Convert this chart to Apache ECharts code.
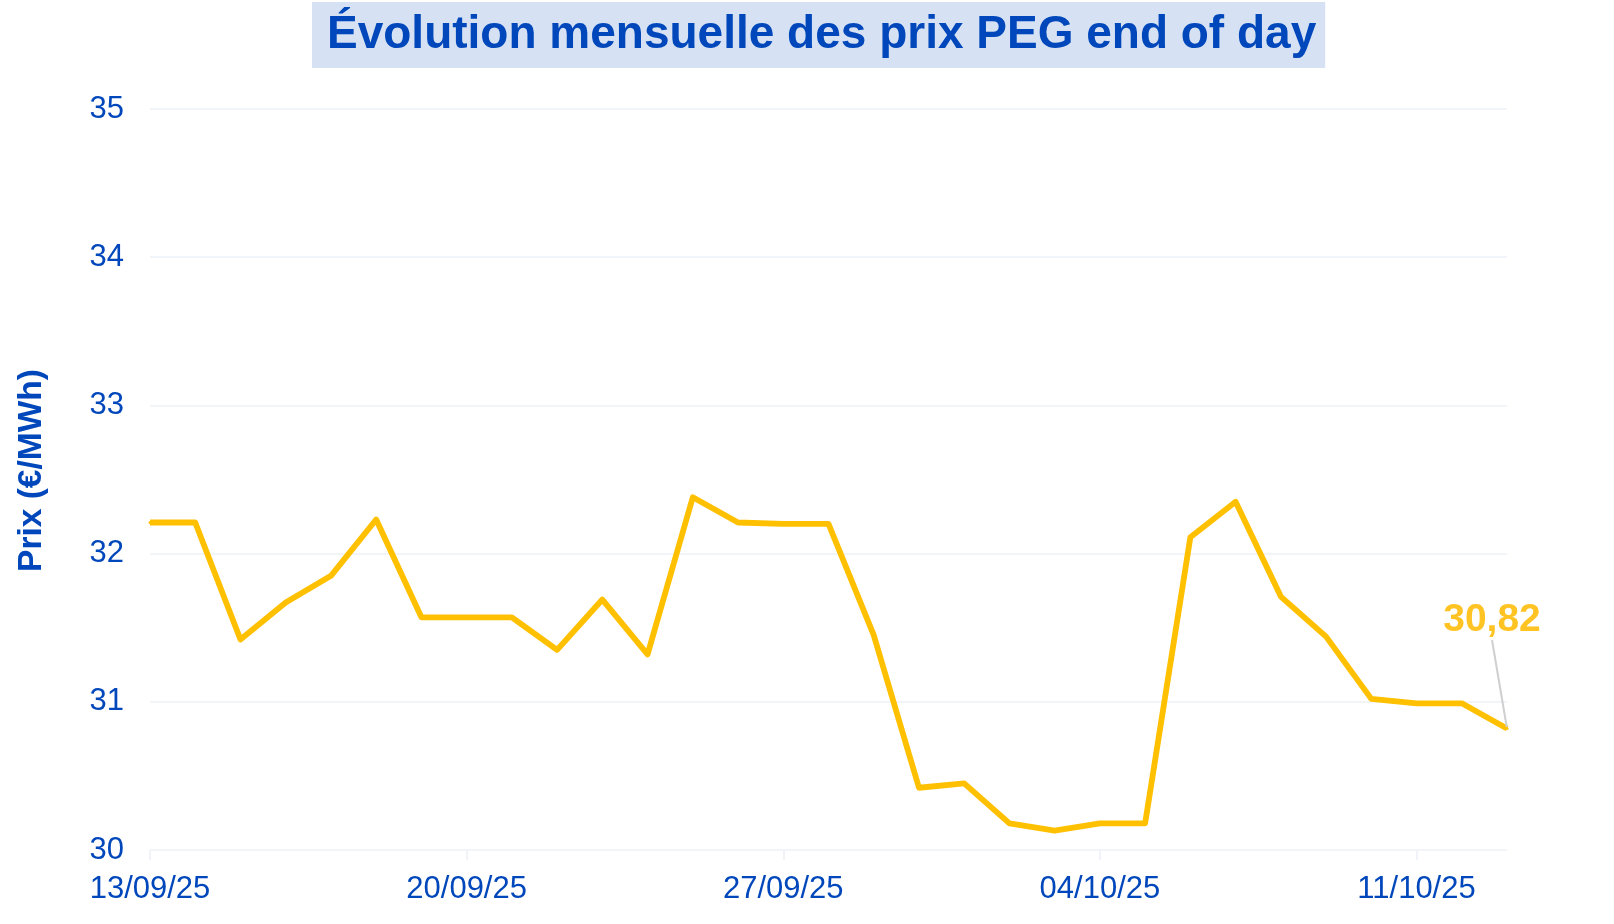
<!DOCTYPE html>
<html>
<head>
<meta charset="utf-8">
<script src="https://cdn.jsdelivr.net/npm/echarts@6/dist/echarts.min.js"></script>
<style>
html,body{margin:0;padding:0;background:#fff;}
#chart{width:1614px;height:924px;}
</style>
</head>
<body>
<div id="chart"></div>
<script>
const titleText = 'Évolution mensuelle des prix PEG end of day';
const yAxisName = 'Prix (€/MWh)';
const dates = ['13/09/25','14/09/25','15/09/25','16/09/25','17/09/25','18/09/25','19/09/25',
  '20/09/25','21/09/25','22/09/25','23/09/25','24/09/25','25/09/25','26/09/25',
  '27/09/25','28/09/25','29/09/25','30/09/25','01/10/25','02/10/25','03/10/25',
  '04/10/25','05/10/25','06/10/25','07/10/25','08/10/25','09/10/25','10/10/25',
  '11/10/25','12/10/25','13/10/25'];
const prices = [32.21,32.21,31.42,31.67,31.85,32.23,31.57,
  31.57,31.57,31.35,31.69,31.32,32.38,32.21,
  32.20,32.20,31.45,30.42,30.45,30.18,30.13,
  30.18,30.18,32.11,32.35,31.71,31.44,31.02,
  30.99,30.99,30.82];
const yMin = 30, yMax = 35, yStep = 1;

const blue = '#0047BB';
const yellow = '#FFC000';
const lastIdx = prices.length - 1;
const font = 'Liberation Sans, Arial, sans-serif';

const seriesData = prices.map((v, i) => {
  if (i !== lastIdx) return v;
  return {
    value: v,
    label: {
      show: true,
      position: 'top',
      formatter: p => p.value.toFixed(2).replace('.', ','),
      color: '#FFC323',
      fontSize: 39,
      fontWeight: 'bold',
      fontFamily: font,
      padding: [0, 0, 18, 0]
    },
    labelLine: { show: true, lineStyle: { color: '#CFCFCF', width: 2 } }
  };
});

const chart = echarts.init(document.getElementById('chart'), null, {renderer: 'canvas'});
chart.setOption({
  backgroundColor: '#fff',
  animation: false,
  title: {
    text: titleText,
    left: 312,
    top: 2,
    backgroundColor: '#D6E2F3',
    padding: [7, 9, 6, 15],
    textStyle: {
      color: blue,
      fontSize: 46,
      fontWeight: 'bold',
      fontFamily: font,
      lineHeight: 53
    }
  },
  grid: { left: 150, right: 107, top: 109, bottom: 74, containLabel: false },
  xAxis: {
    type: 'category',
    data: dates,
    boundaryGap: false,
    axisLine: { show: false },
    axisTick: { show: true, interval: 6, length: 10, lineStyle: { color: '#F0F3F8', width: 2 } },
    axisLabel: {
      interval: 6,
      color: blue,
      fontSize: 31,
      margin: 24,
      fontFamily: font
    },
    splitLine: { show: false }
  },
  yAxis: {
    type: 'value',
    min: yMin,
    max: yMax,
    interval: yStep,
    name: yAxisName,
    nameLocation: 'middle',
    nameGap: 101,
    nameRotate: 90,
    nameTextStyle: {
      color: blue,
      fontSize: 33.5,
      fontWeight: 'bold',
      fontFamily: font,
      padding: [0, 0, 0, 18]
    },
    axisLine: { show: false },
    axisTick: { show: false },
    axisLabel: {
      color: blue,
      fontSize: 31,
      margin: 26,
      fontFamily: font,
      padding: [12, 0, 0, 0]
    },
    splitLine: { show: true, lineStyle: { color: '#F1F4F9', width: 2 } }
  },
  series: [{
    type: 'line',
    data: seriesData,
    showSymbol: true,
    showAllSymbol: true,
    symbol: 'circle',
    symbolSize: 3,
    itemStyle: { color: yellow },
    lineStyle: { color: yellow, width: 5.8, join: 'round' },
    labelLayout: { dx: -15, dy: -64 },
    emphasis: { disabled: true }
  }]
});
</script>
</body>
</html>
